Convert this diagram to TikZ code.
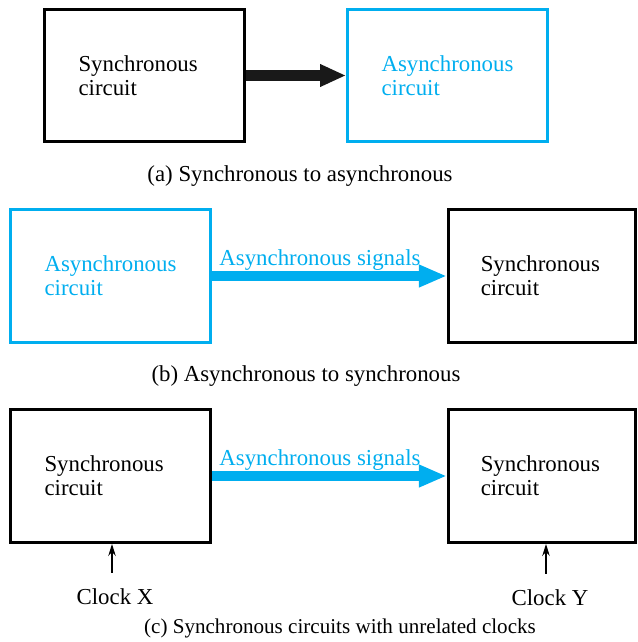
\documentclass[tikz,border=0pt]{standalone}
\usepackage{fontspec}
\setmainfont{Liberation Serif}
\usepackage{xcolor}
\usetikzlibrary{arrows.meta,positioning}
\definecolor{asyblue}{RGB}{0,174,239}
\tikzset{box/.style={draw,line width=1.7pt,align=left,text width=2.64cm,minimum width=4cm,minimum height=2.66cm,inner sep=0pt,font=\rmfamily\fontsize{13}{13.6}\selectfont},
  asybox/.style={box,draw=asyblue,text=asyblue},
  narrow/.style={minimum width=3.74cm,text width=2.44cm},
  captxt/.style={font=\rmfamily\fontsize{13}{15}\selectfont,inner sep=1pt},
  blkarr/.style={-{Triangle[length=0.52cm,width=0.42cm]},line width=0.24cm,black!90},
  sigarr/.style={-{Triangle[length=0.56cm,width=0.42cm]},line width=0.2cm,asyblue},
  clk/.style={-{Stealth[length=2.4mm,width=1.5mm]},line width=0.6pt}}

\begin{document}
\begin{tikzpicture}[x=0.02cm,y=-0.02cm]
\useasboundingbox (0,0) rectangle (637,642);
% (a)
\node[box] (sa) at (144.5,75.5) {Synchronous\\circuit};
\node[asybox] (aa) at (447.5,75.5) {Asynchronous\\circuit};
\draw[blkarr] (sa.east) -- (aa.west);
\node[captxt] (capa) at (300,176) {(a) Synchronous to asynchronous};
% (b)
\node[asybox] (ab) at (110.5,276) {Asynchronous\\circuit};
\node[box,narrow] (sb) at (541.75,276) {Synchronous\\circuit};
\draw[sigarr] (ab.east) -- (sb.west) node[pos=0.46,above=-3pt,font=\rmfamily\fontsize{13}{15}\selectfont,asyblue] (sigb) {Asynchronous signals};
\node[captxt] (capb) at (306,376) {(b) Asynchronous to synchronous};
% (c)
\node[box] (sx) at (110.5,476) {Synchronous\\circuit};
\node[box,narrow] (sy) at (541.75,476) {Synchronous\\circuit};
\draw[sigarr] (sx.east) -- (sy.west) node[pos=0.46,above=-3pt,font=\rmfamily\fontsize{13}{15}\selectfont,asyblue] (sigc) {Asynchronous signals};
\node[captxt] (clkx) at (115,597) {Clock X};
\node[captxt] (clky) at (550,598) {Clock Y};
\draw[clk,shorten <=8pt] (clkx.north) ++(-3,0) coordinate (cxt) -- (cxt |- sx.south);
\draw[clk,shorten <=8pt] (clky.north) ++(-4,0) coordinate (cyt) -- (cyt |- sy.south);
\node[captxt,font=\rmfamily\fontsize{12}{14}\selectfont] (capc) at (340,628) {(c) Synchronous circuits with unrelated clocks};
\end{tikzpicture}
\end{document}
